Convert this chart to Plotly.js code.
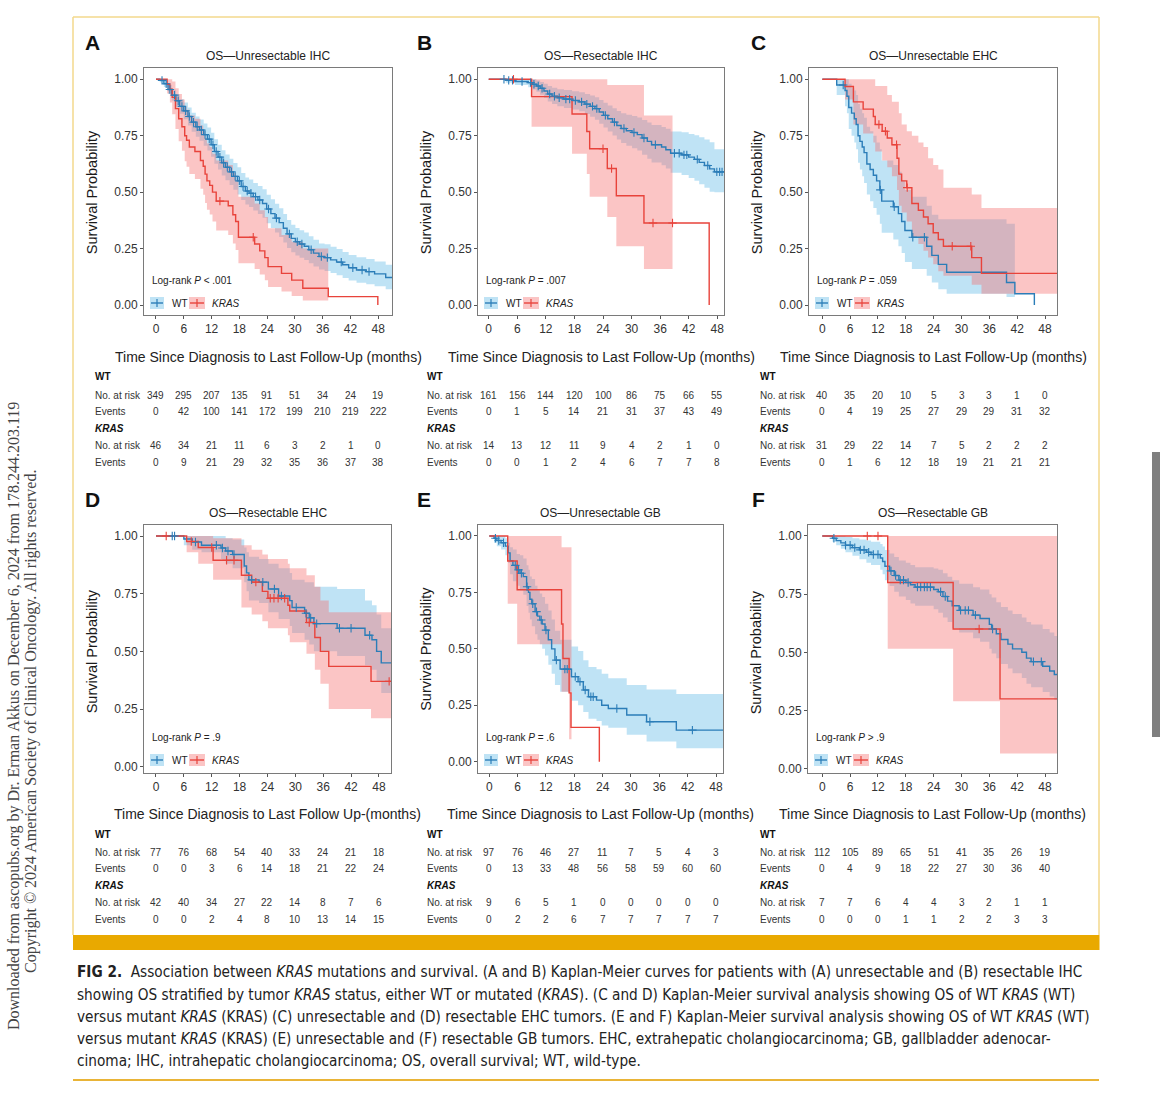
<!DOCTYPE html>
<html><head><meta charset="utf-8">
<script src="https://cdn.plot.ly/plotly-3.0.1.min.js"></script>
<style>html,body{margin:0;padding:0;background:#fff;}#chart{width:1170px;height:1096px;}</style>
</head><body><div id="chart"></div>
<script>
// ---------------- DATA ----------------
const TICKS = [0,6,12,18,24,30,36,42,48];

// Panel A — OS Unresectable IHC
const A_WT_t  = [0,0.8,1.7,2.6,3.4,4.3,5.1,6.0,6.9,7.7,8.6,9.4,10.3,11.1,11.9,12.6,13.4,14.2,15.0,15.9,16.7,17.6,18.4,19.3,20.1,21.0,22.0,23.0,23.9,24.8,25.7,26.6,27.5,28.3,29.2,30.1,31.0,32.0,33.0,34.0,35.2,36.4,37.7,39.0,40.3,41.6,43.3,45.4,47.2,49.6,51];
const A_WT_s  = [1.0,0.995,0.98,0.955,0.93,0.905,0.88,0.86,0.835,0.81,0.79,0.775,0.755,0.735,0.71,0.68,0.655,0.63,0.61,0.59,0.57,0.55,0.525,0.505,0.495,0.48,0.465,0.45,0.425,0.405,0.385,0.365,0.34,0.315,0.295,0.28,0.27,0.26,0.245,0.23,0.215,0.21,0.2,0.19,0.178,0.165,0.155,0.148,0.138,0.122,0.122];
const A_WT_lo = [1.0,0.987,0.966,0.935,0.905,0.876,0.847,0.823,0.795,0.768,0.745,0.728,0.706,0.684,0.657,0.626,0.600,0.574,0.553,0.532,0.511,0.490,0.465,0.445,0.434,0.419,0.403,0.387,0.362,0.341,0.321,0.301,0.277,0.253,0.234,0.219,0.209,0.199,0.185,0.171,0.157,0.151,0.142,0.132,0.120,0.108,0.099,0.092,0.083,0.070,0.070];
const A_WT_hi = [1.0,1.0,0.994,0.976,0.955,0.934,0.913,0.897,0.875,0.852,0.835,0.822,0.804,0.786,0.763,0.734,0.710,0.686,0.667,0.648,0.629,0.610,0.585,0.565,0.556,0.541,0.527,0.513,0.488,0.469,0.449,0.429,0.403,0.377,0.356,0.341,0.331,0.321,0.305,0.289,0.273,0.269,0.258,0.248,0.235,0.222,0.211,0.204,0.193,0.178,0.178];
const A_WT_cens = [1.3,2.2,3.0,4.0,4.8,5.6,6.4,7.2,8.1,8.9,9.8,10.6,11.5,12.3,13.0,13.8,14.6,15.4,16.3,17.1,18.0,18.8,19.7,20.5,21.5,22.4,24.3,26.0,28.8,30.5,31.5,33.5,35.7,37.0,40.0,42.5,44.5,46.0];
const A_KR_t  = [0,2.4,3.0,3.5,4.2,4.9,5.6,6.2,6.6,7.2,8.4,9.6,10.2,10.6,11.0,11.6,12.2,13.0,15.6,16.6,17.2,17.8,21.3,22.4,23.5,24.2,27.1,29.3,31.7,37.2,47.9];
const A_KR_s  = [1.0,0.978,0.956,0.92,0.87,0.825,0.79,0.75,0.73,0.70,0.68,0.64,0.615,0.58,0.55,0.53,0.50,0.46,0.44,0.40,0.37,0.30,0.27,0.24,0.21,0.17,0.14,0.11,0.074,0.037,0];
const A_KR_ciT = [0,2.4,3.0,3.5,4.2,4.9,5.6,6.2,6.6,7.2,8.4,9.6,10.2,10.6,11.0,11.6,12.2,13.0,15.6,16.6,17.2,17.8,21.3,22.4,23.5,24.2,27.1,29.3,31.7,37.2];
const A_KR_lo = [1.0,0.937,0.897,0.845,0.78,0.726,0.683,0.637,0.613,0.58,0.558,0.515,0.489,0.452,0.422,0.401,0.37,0.33,0.31,0.273,0.244,0.185,0.16,0.135,0.11,0.08,0.06,0.04,0.02,0.02];
const A_KR_hi = [1.0,1.0,1.0,0.99,0.96,0.935,0.91,0.88,0.865,0.84,0.825,0.795,0.77,0.74,0.715,0.70,0.67,0.64,0.62,0.585,0.555,0.48,0.45,0.42,0.39,0.34,0.31,0.28,0.25,0.25];
const A_KR_cens = [13.8,21.0];
const A_WT_risk = [349,295,207,135,91,51,34,24,19];
const A_WT_ev   = [0,42,100,141,172,199,210,219,222];
const A_KR_risk = [46,34,21,11,6,3,2,1,0];
const A_KR_ev   = [0,9,21,29,32,35,36,37,38];

// Panel B — OS Resectable IHC
const B_WT_t  = [0,3.6,5.5,8.3,9.2,10.0,10.8,11.6,12.4,13.3,14.4,15.8,17.5,19.0,20.2,21.3,22.3,23.2,24.1,25.0,26.0,26.9,27.8,28.9,30.1,31.2,32.2,33.3,34.2,36.3,37.2,38.2,40.5,42.0,43.2,44.2,45.3,46.4,47.4,51];
const B_WT_s  = [1.0,0.995,0.99,0.985,0.978,0.97,0.96,0.948,0.935,0.925,0.918,0.912,0.906,0.90,0.89,0.88,0.87,0.855,0.84,0.825,0.81,0.795,0.782,0.772,0.764,0.755,0.74,0.725,0.71,0.70,0.688,0.672,0.665,0.655,0.645,0.632,0.618,0.603,0.59,0.59];
const B_WT_lo = [1.0,0.985,0.975,0.965,0.955,0.945,0.932,0.917,0.902,0.89,0.88,0.873,0.866,0.858,0.846,0.834,0.821,0.803,0.786,0.769,0.751,0.733,0.718,0.705,0.695,0.684,0.666,0.648,0.631,0.619,0.605,0.586,0.576,0.563,0.55,0.535,0.519,0.502,0.50,0.50];
const B_WT_hi = [1.0,1.0,1.0,1.0,1.0,0.995,0.988,0.98,0.97,0.962,0.956,0.952,0.947,0.943,0.935,0.928,0.92,0.908,0.896,0.884,0.872,0.86,0.85,0.843,0.837,0.831,0.82,0.809,0.797,0.789,0.781,0.769,0.765,0.758,0.752,0.743,0.733,0.721,0.69,0.69];
const B_WT_cens = [3.2,4.2,5.0,7.0,8.8,9.5,10.4,11.2,12.8,13.8,14.8,16.2,17.0,18.2,19.5,20.6,21.8,22.7,24.5,26.4,28.4,30.5,32.6,35.0,39.0,40.0,41.0,41.6,43.8,46.0,47.9,48.5,49.0];
const B_KR_t  = [0,9.0,17.5,20.6,21.2,24.9,26.8,32.6,46.3];
const B_KR_s  = [1,0.923,0.846,0.769,0.692,0.605,0.484,0.363,0];
const B_KR_ciT = [0,9.0,17.5,20.6,21.2,24.9,26.8,32.6,38.6];
const B_KR_lo = [1,0.79,0.67,0.58,0.48,0.39,0.26,0.16,0.16];
const B_KR_hi = [1,1,1,1,1,0.975,0.975,0.84,0.84];
const B_KR_cens = [5.2,24.0,25.8,34.5,38.6];
const B_WT_risk = [161,156,144,120,100,86,75,66,55];
const B_WT_ev   = [0,1,5,14,21,31,37,43,49];
const B_KR_risk = [14,13,12,11,9,4,2,1,0];
const B_KR_ev   = [0,0,1,2,4,6,7,7,8];

// Panel C — OS Unresectable EHC
const C_WT_t  = [0,3.1,4.9,5.3,5.7,6.3,6.9,7.3,7.7,8.1,8.6,9.0,9.6,10.3,11.0,11.7,12.4,12.8,15.3,16.4,17.1,17.8,19.3,22.5,23.6,25.0,26.8,39.7,41.5,45.7];
const C_WT_s  = [1,0.975,0.95,0.925,0.875,0.85,0.825,0.80,0.75,0.725,0.70,0.675,0.625,0.60,0.575,0.55,0.51,0.46,0.435,0.405,0.37,0.33,0.30,0.26,0.22,0.18,0.145,0.10,0.05,0];
const C_WT_ciT = [0,3.1,4.9,5.3,5.7,6.3,6.9,7.3,7.7,8.1,8.6,9.0,9.6,10.3,11.0,11.7,12.4,12.8,15.3,16.4,17.1,17.8,19.3,22.5,23.6,25.0,26.8,39.7,41.5];
const C_WT_lo = [1,0.93,0.88,0.85,0.78,0.75,0.72,0.69,0.63,0.60,0.57,0.54,0.49,0.46,0.43,0.40,0.36,0.32,0.29,0.26,0.23,0.19,0.16,0.13,0.10,0.07,0.05,0.035,0.035];
const C_WT_hi = [1,1,1,1,0.98,0.96,0.95,0.93,0.89,0.87,0.85,0.83,0.79,0.77,0.75,0.72,0.69,0.64,0.62,0.59,0.55,0.51,0.48,0.44,0.40,0.38,0.38,0.36,0.36];
const C_WT_cens = [4.5,12.5,15.5,19.5,22.0];
const C_KR_t  = [0,4.9,6.7,8.8,11.0,11.4,12.9,14.0,15.0,16.1,16.5,17.1,18.2,19.3,20.7,21.8,22.8,23.9,25.0,26.1,32.2,34.3,51];
const C_KR_s  = [1,0.968,0.90,0.868,0.835,0.80,0.77,0.74,0.71,0.65,0.58,0.55,0.52,0.45,0.42,0.39,0.36,0.32,0.29,0.26,0.21,0.14,0.14];
const C_KR_lo = [1,0.91,0.80,0.76,0.72,0.68,0.64,0.61,0.57,0.51,0.44,0.41,0.37,0.30,0.27,0.24,0.21,0.18,0.15,0.13,0.09,0.05,0.05];
const C_KR_hi = [1,1,1,1,1,0.97,0.97,0.93,0.90,0.90,0.85,0.80,0.77,0.75,0.72,0.70,0.65,0.62,0.60,0.52,0.49,0.43,0.43];
const C_KR_cens = [12.2,13.6,16.0,18.3,28.0,32.0];
const C_WT_risk = [40,35,20,10,5,3,3,1,0];
const C_WT_ev   = [0,4,19,25,27,29,29,31,32];
const C_KR_risk = [31,29,22,14,7,5,2,2,2];
const C_KR_ev   = [0,1,6,12,18,19,21,21,21];

// Panel D — OS Resectable EHC
const D_WT_t  = [0,6.0,7.8,9.8,14.0,15.0,16.5,19.0,19.5,20.0,22.2,24.2,26.4,28.8,29.3,32.0,33.0,34.0,39.0,45.0,46.5,47.5,48.5,51];
const D_WT_s  = [1,0.987,0.974,0.96,0.948,0.935,0.92,0.87,0.84,0.81,0.80,0.77,0.74,0.72,0.69,0.665,0.645,0.62,0.60,0.57,0.55,0.50,0.45,0.45];
const D_WT_lo = [1,0.96,0.94,0.93,0.90,0.88,0.86,0.80,0.76,0.72,0.71,0.67,0.64,0.61,0.58,0.55,0.53,0.50,0.48,0.44,0.42,0.37,0.32,0.32];
const D_WT_hi = [1,1,1,1,1,0.99,0.985,0.95,0.93,0.91,0.90,0.88,0.86,0.84,0.81,0.80,0.80,0.78,0.77,0.72,0.70,0.66,0.60,0.60];
const D_WT_cens = [3.5,4.0,8.5,13.0,14.3,15.5,16.8,20.6,23.0,25.5,27.0,30.2,32.3,33.3,34.6,39.5,42.0,46.0];
const D_KR_t  = [0,6.6,9.1,12.3,18.4,20.6,22.9,24.1,28.4,28.8,32.4,34.2,35.4,37.2,46.3,51];
const D_KR_s  = [1,0.976,0.95,0.895,0.83,0.80,0.76,0.73,0.70,0.675,0.625,0.56,0.50,0.435,0.37,0.37];
const D_KR_lo = [1,0.93,0.88,0.81,0.69,0.66,0.63,0.60,0.57,0.54,0.49,0.42,0.36,0.25,0.21,0.21];
const D_KR_hi = [1,1,1,0.99,0.96,0.94,0.92,0.90,0.88,0.86,0.83,0.78,0.72,0.67,0.67,0.67];
const D_KR_cens = [2.2,7.6,12.0,15.2,16.8,21.5,24.6,25.4,26.3,27.7,33.0,50.2];
const D_WT_risk = [77,76,68,54,40,33,24,21,18];
const D_WT_ev   = [0,0,3,6,14,18,21,22,24];
const D_KR_risk = [42,40,34,27,22,14,8,7,6];
const D_KR_ev   = [0,0,2,4,8,10,13,14,15];

// Panel E — OS Unresectable GB
const E_WT_t  = [0,1.0,1.6,2.5,3.4,4.0,4.4,5.0,5.8,6.5,7.2,7.9,8.3,8.6,9.0,9.7,10.2,10.7,11.2,11.8,12.5,13.2,13.9,15.0,17.4,18.8,19.9,21.0,22.7,23.8,25.2,29.1,33.3,39.6,49.8,51];
const E_WT_s  = [1,0.99,0.98,0.97,0.955,0.925,0.89,0.87,0.85,0.835,0.82,0.775,0.75,0.72,0.70,0.665,0.645,0.628,0.61,0.583,0.54,0.50,0.45,0.41,0.377,0.355,0.318,0.288,0.273,0.25,0.236,0.207,0.177,0.14,0.089,0.089];
const E_WT_lo = [1,0.97,0.955,0.94,0.915,0.88,0.83,0.80,0.78,0.76,0.74,0.69,0.66,0.63,0.60,0.565,0.54,0.52,0.50,0.47,0.43,0.39,0.34,0.31,0.27,0.25,0.22,0.19,0.18,0.16,0.15,0.12,0.09,0.06,0.025,0.025];
const E_WT_hi = [1,1,1,1,0.99,0.97,0.95,0.94,0.92,0.915,0.90,0.87,0.85,0.82,0.81,0.78,0.76,0.745,0.73,0.70,0.67,0.63,0.58,0.54,0.51,0.49,0.45,0.42,0.41,0.39,0.37,0.34,0.32,0.30,0.28,0.28];
const E_WT_cens = [1.3,2.0,3.0,5.5,6.2,6.8,8.0,9.2,10.0,11.0,12.0,14.2,16.0,16.5,18.2,19.2,20.3,21.5,22.0,27.0,34.0,43.0];
const E_KR_t  = [0,3.9,5.9,15.3,15.6,16.9,17.3,23.3];
const E_KR_s  = [1,0.889,0.762,0.61,0.457,0.305,0.152,0];
const E_KR_ciT = [0,3.9,5.9,15.3,16.9,17.4];
const E_KR_lo = [1,0.70,0.52,0.31,0.10,0.10];
const E_KR_hi = [1,1,1,0.95,0.95,0.95];
const E_KR_cens = [];
const E_WT_risk = [97,76,46,27,11,7,5,4,3];
const E_WT_ev   = [0,13,33,48,56,58,59,60,60];
const E_KR_risk = [9,6,5,1,0,0,0,0,0];
const E_KR_ev   = [0,2,2,6,7,7,7,7,7];

// Panel F — OS Resectable GB
const F_WT_t  = [0,2.2,3.0,4.0,5.0,6.5,8.0,9.5,10.5,12.5,13.0,13.5,14.5,15.5,16.5,18.0,19.0,20.0,24.0,25.0,26.0,27.0,28.0,29.5,32.5,34.0,36.0,36.5,37.5,38.5,40.0,41.0,43.0,44.0,45.0,47.5,49.0,50.0,51];
const F_WT_s  = [1,0.99,0.98,0.97,0.96,0.95,0.94,0.93,0.92,0.905,0.89,0.87,0.85,0.83,0.81,0.80,0.79,0.78,0.77,0.76,0.74,0.72,0.70,0.68,0.66,0.645,0.62,0.60,0.58,0.555,0.535,0.515,0.50,0.475,0.46,0.44,0.42,0.405,0.405];
const F_WT_lo = [1,0.975,0.96,0.945,0.93,0.915,0.90,0.885,0.875,0.855,0.835,0.81,0.785,0.76,0.74,0.725,0.71,0.70,0.685,0.67,0.65,0.63,0.605,0.585,0.56,0.545,0.515,0.495,0.475,0.45,0.43,0.41,0.39,0.365,0.35,0.33,0.31,0.295,0.295];
const F_WT_hi = [1,1,1,1,0.995,0.99,0.985,0.98,0.975,0.965,0.955,0.94,0.925,0.91,0.895,0.885,0.875,0.865,0.86,0.855,0.84,0.825,0.81,0.795,0.78,0.77,0.75,0.735,0.715,0.695,0.68,0.665,0.65,0.63,0.62,0.60,0.585,0.57,0.57];
const F_WT_cens = [2.5,5.0,6.0,7.0,8.2,9.0,10.0,11.0,12.0,14.8,15.8,16.8,17.5,18.5,20.5,21.2,22.0,22.6,23.3,25.5,26.5,29.8,30.8,31.5,33.0,36.7,45.5,47.2];
const F_KR_t  = [0,14.1,28.2,38.3,51];
const F_KR_s  = [1,0.8,0.6,0.3,0.3];
const F_KR_lo = [1,0.515,0.29,0.065,0.065];
const F_KR_hi = [1,1,1,1,1];
const F_KR_cens = [9.7,12.0,33.8];
const F_WT_risk = [112,105,89,65,51,41,35,26,19];
const F_WT_ev   = [0,4,9,18,22,27,30,36,40];
const F_KR_risk = [7,7,6,4,4,3,2,1,1];
const F_KR_ev   = [0,0,0,1,1,2,2,3,3];

const TITLES = ['OS—Unresectable IHC','OS—Resectable IHC','OS—Unresectable EHC','OS—Resectable EHC','OS—Unresectable GB','OS—Resectable GB'];
const LOGRANK = ['Log-rank <i>P</i> < .001','Log-rank <i>P</i> = .007','Log-rank <i>P</i> = .059','Log-rank <i>P</i> = .9','Log-rank <i>P</i> = .6','Log-rank <i>P</i> > .9'];
const XTITLES = ['Time Since Diagnosis to Last Follow-Up (months)','Time Since Diagnosis to Last Follow-Up (months)','Time Since Diagnosis to Last Follow-Up (months)','Time Since Diagnosis to Last Follow Up-(months)','Time Since Diagnosis to Last Follow-Up (months)','Time Since Diagnosis to Last Follow-Up (months)'];
const LETTERS = ['A','B','C','D','E','F'];
const CAPTION = [
 '<b>FIG 2.</b>  Association between <i>KRAS</i> mutations and survival. (A and B) Kaplan-Meier curves for patients with (A) unresectable and (B) resectable IHC',
 'showing OS stratified by tumor <i>KRAS</i> status, either WT or mutated (<i>KRAS</i>). (C and D) Kaplan-Meier survival analysis showing OS of WT <i>KRAS</i> (WT)',
 'versus mutant <i>KRAS</i> (KRAS) (C) unresectable and (D) resectable EHC tumors. (E and F) Kaplan-Meier survival analysis showing OS of WT <i>KRAS</i> (WT)',
 'versus mutant <i>KRAS</i> (KRAS) (E) unresectable and (F) resectable GB tumors. EHC, extrahepatic cholangiocarcinoma; GB, gallbladder adenocar-',
 'cinoma; IHC, intrahepatic cholangiocarcinoma; OS, overall survival; WT, wild-type.'
];
const WATERMARK = ['Downloaded from ascopubs.org by Dr. Erman Akkus on December 6, 2024 from 178.244.203.119',
 'Copyright © 2024 American Society of Clinical Oncology. All rights reserved.'];

// ---------------- LAYOUT / BUILD ----------------
const W=1170, H=1096;
const PX = x => x/W, PY = y => 1 - y/H;
const FONT = '"Liberation Sans", Arial, Helvetica, sans-serif';
const NARROW = '"Liberation Sans Narrow", "Arial Narrow", "DejaVu Sans Condensed", "Liberation Sans", sans-serif';
const C_WT = '#2b7db8', C_KR = '#e8433b';
const F_WT = 'rgba(95,185,230,0.40)', F_KR = 'rgba(246,110,110,0.40)';

const panels = [
 {px:[144,392], py:[68,315], xr:[-2.59,50.96], yr:[-0.0443,1.050], row:0, col:0,
  wt:{t:A_WT_t,s:A_WT_s,ciT:A_WT_t,lo:A_WT_lo,hi:A_WT_hi,c:A_WT_cens},
  kr:{t:A_KR_t,s:A_KR_s,ciT:A_KR_ciT,lo:A_KR_lo,hi:A_KR_hi,c:A_KR_cens},
  tab:[A_WT_risk,A_WT_ev,A_KR_risk,A_KR_ev]},
 {px:[478,724], py:[68,315], xr:[-2.25,49.41], yr:[-0.0443,1.050], row:0, col:1,
  wt:{t:B_WT_t,s:B_WT_s,ciT:B_WT_t,lo:B_WT_lo,hi:B_WT_hi,c:B_WT_cens},
  kr:{t:B_KR_t,s:B_KR_s,ciT:B_KR_ciT,lo:B_KR_lo,hi:B_KR_hi,c:B_KR_cens},
  tab:[B_WT_risk,B_WT_ev,B_KR_risk,B_KR_ev]},
 {px:[809,1057], py:[68,315], xr:[-2.87,50.58], yr:[-0.0443,1.050], row:0, col:2,
  wt:{t:C_WT_t,s:C_WT_s,ciT:C_WT_ciT,lo:C_WT_lo,hi:C_WT_hi,c:C_WT_cens},
  kr:{t:C_KR_t,s:C_KR_s,ciT:C_KR_t,lo:C_KR_lo,hi:C_KR_hi,c:C_KR_cens},
  tab:[C_WT_risk,C_WT_ev,C_KR_risk,C_KR_ev]},
 {px:[144,391], py:[525,773], xr:[-2.58,50.6], yr:[-0.0273,1.0477], row:1, col:0,
  wt:{t:D_WT_t,s:D_WT_s,ciT:D_WT_t,lo:D_WT_lo,hi:D_WT_hi,c:D_WT_cens},
  kr:{t:D_KR_t,s:D_KR_s,ciT:D_KR_t,lo:D_KR_lo,hi:D_KR_hi,c:D_KR_cens},
  tab:[D_WT_risk,D_WT_ev,D_KR_risk,D_KR_ev]},
 {px:[478,723], py:[525,773], xr:[-2.39,49.48], yr:[-0.050,1.0487], row:1, col:1,
  wt:{t:E_WT_t,s:E_WT_s,ciT:E_WT_t,lo:E_WT_lo,hi:E_WT_hi,c:E_WT_cens},
  kr:{t:E_KR_t,s:E_KR_s,ciT:E_KR_ciT,lo:E_KR_lo,hi:E_KR_hi,c:E_KR_cens},
  tab:[E_WT_risk,E_WT_ev,E_KR_risk,E_KR_ev]},
 {px:[808,1057], py:[525,773], xr:[-3.08,50.58], yr:[-0.0185,1.047], row:1, col:2,
  wt:{t:F_WT_t,s:F_WT_s,ciT:F_WT_t,lo:F_WT_lo,hi:F_WT_hi,c:F_WT_cens},
  kr:{t:F_KR_t,s:F_KR_s,ciT:F_KR_t,lo:F_KR_lo,hi:F_KR_hi,c:F_KR_cens},
  tab:[F_WT_risk,F_WT_ev,F_KR_risk,F_KR_ev]}
];
const COL_LEFT = [93,425,758];
const LETTER_X = [92,424,758];

function survAt(t,s,x){let v=s[0];for(let i=0;i<t.length;i++){if(t[i]<=x)v=s[i];else break;}return v;}
function ann(x,y,text,o){o=o||{};return Object.assign({xref:'paper',yref:'paper',x:PX(x),y:PY(y),text:text,showarrow:false,xanchor:'center',yanchor:'middle',font:{family:FONT,size:10,color:'#333'}},o);}

const traces=[], annotations=[], shapes=[];
const layout = {width:W,height:H,margin:{l:0,r:0,t:0,b:0},paper_bgcolor:'#fff',plot_bgcolor:'#fff',showlegend:false,annotations:annotations,shapes:shapes};

panels.forEach((p,i)=>{
  const n=i+1, xa = n===1?'x':'x'+n, ya = n===1?'y':'y'+n, suf = n===1?'':String(n);
  const axCommon = {ticks:'outside',ticklen:3,tickwidth:1,tickcolor:'#555',showline:true,linecolor:'#7a7a7a',linewidth:1,mirror:true,
    showgrid:false,zeroline:false,fixedrange:true,tickfont:{family:FONT,size:12,color:'#333'}};
  layout['xaxis'+suf] = Object.assign({domain:[PX(p.px[0]),PX(p.px[1])],range:p.xr,anchor:ya,tickvals:TICKS,ticktext:TICKS.map(String)},axCommon);
  layout['yaxis'+suf] = Object.assign({domain:[PY(p.py[1]),PY(p.py[0])],range:p.yr,anchor:xa,tickvals:[0,0.25,0.5,0.75,1],ticktext:['0.00','0.25','0.50','0.75','1.00']},axCommon);

  [p.wt,p.kr].forEach((g,gi)=>{
    const fc = gi?F_KR:F_WT;
    traces.push({type:'scatter',mode:'lines',x:g.ciT,y:g.lo,xaxis:xa,yaxis:ya,line:{width:0,shape:'hv',color:fc},hoverinfo:'skip'});
    traces.push({type:'scatter',mode:'lines',x:g.ciT,y:g.hi,xaxis:xa,yaxis:ya,line:{width:0,shape:'hv',color:fc},fill:'tonexty',fillcolor:fc,hoverinfo:'skip'});
  });
  [p.wt,p.kr].forEach((g,gi)=>{
    const col = gi?C_KR:C_WT;
    traces.push({type:'scatter',mode:'lines',x:g.t,y:g.s,xaxis:xa,yaxis:ya,line:{width:1.4,shape:'hv',color:col},name:gi?'KRAS':'WT'});
  });
  [p.wt,p.kr].forEach((g,gi)=>{
    const col = gi?C_KR:C_WT;
    traces.push({type:'scatter',mode:'markers',x:g.c,y:g.c.map(x=>survAt(g.t,g.s,x)),xaxis:xa,yaxis:ya,
      marker:{symbol:'cross-thin',size:6,color:col,line:{width:1.1,color:col}},hoverinfo:'skip'});
  });

  const L=p.px[0], R=p.px[1], cx=(L+R)/2, dy = p.row*457;
  const yTop = p.py[0], yBot = p.py[1];
  annotations.push(ann(LETTER_X[p.col], 42+dy, '<b>'+LETTERS[i]+'</b>', {font:{family:FONT,size:21,color:'#111'}}));
  annotations.push(ann(cx, 56+dy, TITLES[i], {font:{family:FONT,size:12,color:'#222'}}));
  const y0px = yBot - (0-p.yr[0])/(p.yr[1]-p.yr[0])*(yBot-yTop);
  const y1px = yBot - (1-p.yr[0])/(p.yr[1]-p.yr[0])*(yBot-yTop);
  annotations.push(ann(L-52, (y0px+y1px)/2, 'Survival Probability', {textangle:-90,font:{family:FONT,size:14.5,color:'#1a1a1a'}}));
  annotations.push(ann(L+6, 280+dy, LOGRANK[i], {xanchor:'left',font:{family:FONT,size:10,color:'#222'}}));
  const ly = 303+dy;
  [[L+6,L+20,C_WT,F_WT,'WT',L+26],[L+45,L+61,C_KR,F_KR,'<i>KRAS</i>',L+66]].forEach(k=>{
    shapes.push({type:'rect',xref:'paper',yref:'paper',x0:PX(k[0]),x1:PX(k[1]),y0:PY(ly+6),y1:PY(ly-6),fillcolor:k[3],line:{width:0}});
    shapes.push({type:'line',xref:'paper',yref:'paper',x0:PX(k[0]+1),x1:PX(k[1]-1),y0:PY(ly),y1:PY(ly),line:{color:k[2],width:1.4}});
    const m=(k[0]+k[1])/2;
    shapes.push({type:'line',xref:'paper',yref:'paper',x0:PX(m),x1:PX(m),y0:PY(ly-4),y1:PY(ly+4),line:{color:k[2],width:1.2}});
    annotations.push(ann(k[5], ly, k[4], {xanchor:'left',font:{family:FONT,size:10,color:'#222'}}));
  });
  annotations.push(ann(cx, 357+dy, XTITLES[i], {font:{family:FONT,size:14,color:'#222'}}));
  const lx = COL_LEFT[p.col];
  const rowsY = [377,395,411,428,445,462].map(v=>v+dy);
  annotations.push(ann(lx, rowsY[0], '<b>WT</b>', {xanchor:'left',font:{family:FONT,size:10,color:'#111'}}));
  annotations.push(ann(lx, rowsY[1], 'No. at risk', {xanchor:'left',font:{family:FONT,size:10,color:'#333'}}));
  annotations.push(ann(lx, rowsY[2], 'Events', {xanchor:'left',font:{family:FONT,size:10,color:'#333'}}));
  annotations.push(ann(lx, rowsY[3], '<b><i>KRAS</i></b>', {xanchor:'left',font:{family:FONT,size:10,color:'#111'}}));
  annotations.push(ann(lx, rowsY[4], 'No. at risk', {xanchor:'left',font:{family:FONT,size:10,color:'#333'}}));
  annotations.push(ann(lx, rowsY[5], 'Events', {xanchor:'left',font:{family:FONT,size:10,color:'#333'}}));
  const rowIdx=[1,2,4,5];
  p.tab.forEach((arr,ri)=>{
    arr.forEach((v,j)=>{
      annotations.push({xref:xa,yref:'paper',x:TICKS[j],y:PY(rowsY[rowIdx[ri]]),text:String(v),showarrow:false,xanchor:'center',yanchor:'middle',font:{family:FONT,size:10,color:'#333'}});
    });
  });
});

// page frame elements
const gold='#E9A900', pale='#F3D98C';
shapes.push({type:'line',xref:'paper',yref:'paper',x0:PX(73),x1:PX(1099),y0:PY(17),y1:PY(17),line:{color:pale,width:1.5}});
shapes.push({type:'line',xref:'paper',yref:'paper',x0:PX(73),x1:PX(73),y0:PY(17),y1:PY(935),line:{color:pale,width:1.5}});
shapes.push({type:'line',xref:'paper',yref:'paper',x0:PX(1099),x1:PX(1099),y0:PY(17),y1:PY(935),line:{color:pale,width:1.5}});
shapes.push({type:'rect',xref:'paper',yref:'paper',x0:PX(73),x1:PX(1099.5),y0:PY(950),y1:PY(935),fillcolor:gold,line:{width:0}});
shapes.push({type:'line',xref:'paper',yref:'paper',x0:PX(73),x1:PX(1099),y0:PY(1080),y1:PY(1080),line:{color:'#E9B437',width:2}});
shapes.push({type:'rect',xref:'paper',yref:'paper',x0:PX(1152),x1:PX(1160),y0:PY(737),y1:PY(452),fillcolor:'#7f7f7f',line:{width:0}});

// caption: fit first line to column width
function measure(txt,size,fam){const c=document.createElement('canvas').getContext('2d');c.font=size+'px '+fam;return c.measureText(txt).width;}
const plain1 = CAPTION[0].replace(/<[^>]+>/g,'');
let capSize = 15.5;
const w1 = measure(plain1,capSize,NARROW);
capSize = Math.min(17, capSize*1000/w1);
const capY=[972,995,1017,1039,1061];
CAPTION.forEach((t,k)=>annotations.push(ann(75,capY[k],t,{xanchor:'left',font:{family:NARROW,size:capSize,color:'#222'}})));

// watermark
annotations.push(ann(14,716,WATERMARK[0],{textangle:-90,font:{family:'"Liberation Serif", "Times New Roman", serif',size:16,color:'#444'}}));
annotations.push(ann(31,722,WATERMARK[1],{textangle:-90,font:{family:'"Liberation Serif", "Times New Roman", serif',size:16,color:'#444'}}));

Plotly.newPlot('chart',traces,layout,{staticPlot:true,displayModeBar:false});
</script></body></html>
